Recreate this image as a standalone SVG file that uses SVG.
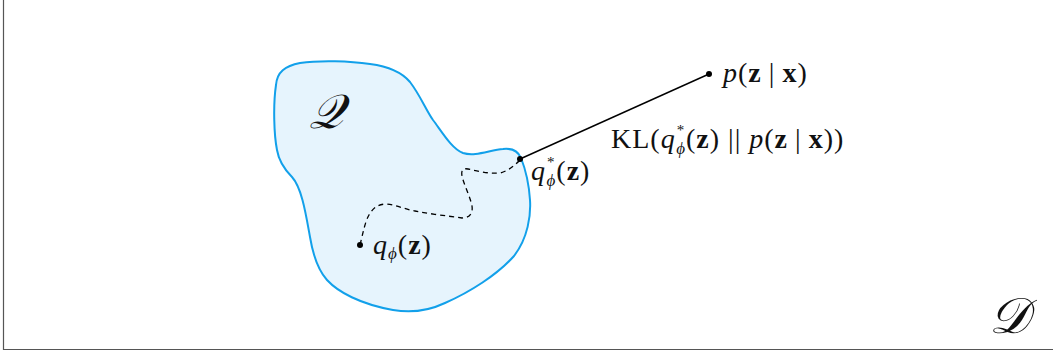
<svg xmlns="http://www.w3.org/2000/svg" width="1053" height="353" viewBox="0 0 1053 353">
<style>
.t{font-family:"Liberation Serif","DejaVu Serif",serif;font-size:28px;letter-spacing:1px;fill:#111}
.i{font-style:italic}
.b{font-weight:bold}
.sub{font-size:17px;font-style:italic}
.sup{font-size:15px}
.cal{font-family:"DejaVu Serif","Liberation Serif",serif;font-style:italic;fill:#111}
.dot{fill:#000}
</style>
<rect width="1053" height="353" fill="#fff"/>
<g id="frame" fill="none" stroke="#555" stroke-width="1.2">
<path d="M3.5 0 V349.5 H1053"/>
</g>
<g id="Q-region">
<path d="M300 63 C285 66 277 72 276 85 C273 105 274 135 277 150 C279 162 285 170 292 177 C302 188 306 215 310 237 C313 255 318 270 327 280 C338 292 360 304 393 310 C410 313 428 311 445 303 C470 292 497 275 514 256 C528 238 531 215 530 200 C529 185 525 168 521 158 C518 151 512 148 503 149 C490 150 475 157 463 153 C452 149 442 132 433 120 C426 110 420 95 410 82 C400 70 385 66 370 64 C350 61 320 60 300 63 Z" fill="#e6f4fd" stroke="#12a0ea" stroke-width="2"/>
<text class="cal" x="309" y="128" font-size="48">𝒬</text>
</g>
<g id="connectors" fill="none" stroke="#000">
<path d="M360 245 C363 233 365 222 369 215 C373 208 378 204 387 204 C396 205 404 209 415 211 C430 214 448 216 462 218 C470 218 473 213 472 206 C470 196 464 185 462 176 C461 170 463 168 468 169 C478 171 488 174 500 173 C508 171 514 166 520 160" stroke-width="1.3" stroke-dasharray="5,4"/>
<line x1="520" y1="159" x2="709" y2="74" stroke-width="1.4"/>
</g>
<g id="q-phi">
<circle class="dot" cx="360" cy="245" r="3"/>
<text class="t" x="373" y="254"><tspan class="i">q</tspan><tspan class="sub" dy="5">ϕ</tspan><tspan dy="-5">(</tspan><tspan class="b">z</tspan>)</text>
</g>
<g id="q-star">
<circle class="dot" cx="520" cy="159" r="3"/>
<text class="t" x="531" y="180"><tspan class="i">q</tspan><tspan class="sup" dx="1" dy="-13">*</tspan><tspan class="sub" dx="-9" dy="19">ϕ</tspan><tspan dy="-6">(</tspan><tspan class="b">z</tspan>)</text>
</g>
<g id="p-zx">
<circle class="dot" cx="709" cy="74" r="3"/>
<text class="t" x="723" y="82"><tspan class="i">p</tspan>(<tspan class="b">z</tspan><tspan dx="7">|</tspan><tspan class="b" dx="7">x</tspan>)</text>
</g>
<g id="kl-label">
<text class="t" x="611" y="148">KL(<tspan class="i">q</tspan><tspan class="sup" dx="1" dy="-13">*</tspan><tspan class="sub" dx="-9" dy="19">ϕ</tspan><tspan dy="-6">(</tspan><tspan class="b">z</tspan>)<tspan dx="8">||</tspan><tspan class="i" dx="8">p</tspan>(<tspan class="b">z</tspan><tspan dx="7">|</tspan><tspan class="b" dx="7">x</tspan>))</text>
</g>
<g id="D-label">
<text class="cal" x="989" y="333" font-size="50">𝒟</text>
</g>
</svg>
